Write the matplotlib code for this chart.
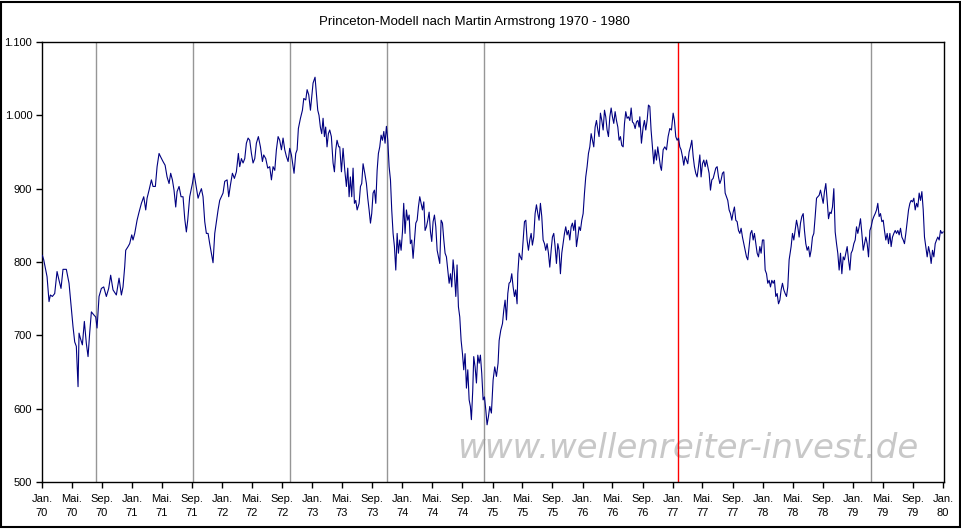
import datetime as dt
import numpy as np
import matplotlib
matplotlib.use("Agg")
import matplotlib.pyplot as plt
from matplotlib.patches import Rectangle

plt.rcParams['font.family'] = ['Liberation Sans', 'DejaVu Sans']

TITLE = "Princeton-Modell nach Martin Armstrong 1970 - 1980"
WATERMARK = "www.wellenreiter-invest.de"

# ---- data: Dow Jones index, dates as decimal years -------------------------
t_1970 = [1970.004, 1970.019, 1970.041, 1970.056, 1970.078, 1970.093, 1970.115, 1970.141,
          1970.167, 1970.189, 1970.211, 1970.233, 1970.270, 1970.300, 1970.326, 1970.344,
          1970.363, 1970.381, 1970.400, 1970.411, 1970.426, 1970.448, 1970.470, 1970.492,
          1970.511, 1970.529, 1970.548, 1970.574, 1970.596, 1970.611, 1970.633, 1970.659,
          1970.685, 1970.714, 1970.740, 1970.762, 1970.788, 1970.825, 1970.855, 1970.881,
          1970.899, 1970.918, 1970.929, 1970.955, 1970.973, 1970.996]
v_1970 = [809, 803, 789, 780, 746, 755, 753, 757,
          787, 775, 764, 790, 790, 771, 737, 712,
          691, 685, 630, 703, 696, 687, 719, 689,
          671, 703, 732, 728, 725, 710, 753, 764,
          766, 753, 764, 782, 762, 755, 778, 755,
          766, 794, 816, 821, 825, 837]

t_1971 = [1971.010, 1971.029, 1971.055, 1971.077, 1971.103, 1971.129, 1971.151, 1971.166,
          1971.188, 1971.214, 1971.232, 1971.258, 1971.277, 1971.299, 1971.314, 1971.343,
          1971.366, 1971.388, 1971.410, 1971.428, 1971.447, 1971.465, 1971.484, 1971.499,
          1971.521, 1971.543, 1971.565, 1971.584, 1971.602, 1971.617,
          1971.639, 1971.669, 1971.687, 1971.706, 1971.732, 1971.750, 1971.769, 1971.787,
          1971.806, 1971.824, 1971.843, 1971.861, 1971.880, 1971.898, 1971.917, 1971.935,
          1971.954, 1971.972, 1971.991]
v_1971 = [830, 839, 857, 868, 880, 889, 871, 887,
          898, 912, 903, 903, 930, 948, 944, 937,
          932, 916, 907, 921, 912, 898, 875, 896,
          903, 889, 889, 859, 841, 857,
          889, 907, 921, 907, 887, 894, 900, 889,
          855, 839, 839, 825, 812, 799, 839, 855,
          871, 884, 889]

t_1972 = [1972.009, 1972.028, 1972.054, 1972.072, 1972.091, 1972.113, 1972.135, 1972.157,
          1972.179, 1972.194, 1972.213, 1972.231, 1972.250, 1972.268, 1972.287, 1972.305,
          1972.324, 1972.342, 1972.361, 1972.379, 1972.401, 1972.424, 1972.446, 1972.460,
          1972.483, 1972.505, 1972.527, 1972.546, 1972.564, 1972.583, 1972.601, 1972.620,
          1972.638, 1972.657, 1972.675, 1972.694, 1972.712, 1972.731, 1972.749, 1972.768,
          1972.786, 1972.797, 1972.816, 1972.831, 1972.845, 1972.868, 1972.890, 1972.905,
          1972.927, 1972.942, 1972.960, 1972.979, 1972.993]
v_1972 = [894, 910, 912, 889, 905, 921, 914, 923,
          948, 930, 941, 935, 941, 962, 969, 966,
          948, 935, 941, 962, 971, 957, 937, 946,
          941, 928, 930, 912, 930, 925, 953, 971,
          966, 953, 969, 953, 944, 937, 955, 946,
          930, 921, 948, 953, 982, 996, 1007, 1023,
          1021, 1035, 1028, 1007, 1025]

t_1973 = [1973.008, 1973.030, 1973.045, 1973.060, 1973.074, 1973.089, 1973.104, 1973.119,
          1973.134, 1973.148, 1973.163, 1973.178, 1973.193, 1973.211, 1973.230, 1973.245,
          1973.260, 1973.274, 1973.293,
          1973.304, 1973.323, 1973.341, 1973.360, 1973.378, 1973.393, 1973.408, 1973.422,
          1973.437, 1973.452, 1973.467, 1973.482, 1973.497, 1973.519, 1973.534, 1973.548,
          1973.563, 1973.582, 1973.600, 1973.615, 1973.630, 1973.645, 1973.659, 1973.674,
          1973.689, 1973.704, 1973.719, 1973.733, 1973.748, 1973.763, 1973.778, 1973.793,
          1973.807, 1973.822, 1973.837, 1973.852, 1973.867, 1973.881, 1973.896, 1973.911,
          1973.926, 1973.941, 1973.955, 1973.970, 1973.985]
v_1973 = [1044, 1052, 1030, 1007, 1000, 984, 975, 996,
          971, 984, 957, 975, 980, 971, 935, 923,
          953, 966, 957,
          957, 923, 955, 925, 903, 928, 889, 916,
          889, 928, 880, 884, 871, 880, 903, 907,
          934, 921, 907, 887, 871, 853, 866, 894,
          898, 880, 925, 948, 957, 973, 966, 978,
          962, 985, 966, 930, 912, 871, 839, 821,
          789, 839, 812, 830, 816]

t_1974 = [1974.000, 1974.014, 1974.029, 1974.044, 1974.059, 1974.074, 1974.088, 1974.103,
          1974.118, 1974.133, 1974.148, 1974.163, 1974.177, 1974.192, 1974.207, 1974.222,
          1974.237, 1974.251, 1974.266, 1974.281, 1974.296, 1974.311, 1974.325, 1974.340,
          1974.355, 1974.370, 1974.385, 1974.399, 1974.414, 1974.429, 1974.444, 1974.459,
          1974.473, 1974.488, 1974.503, 1974.518, 1974.533, 1974.547, 1974.562, 1974.577,
          1974.592, 1974.606, 1974.621, 1974.636, 1974.651, 1974.666, 1974.680, 1974.695,
          1974.710, 1974.725, 1974.740, 1974.754, 1974.765, 1974.780, 1974.791, 1974.806,
          1974.821, 1974.836, 1974.851, 1974.865, 1974.880, 1974.895, 1974.910, 1974.925,
          1974.939, 1974.954, 1974.969, 1974.987]
v_1974 = [841, 880, 839, 871, 857, 864, 825, 830,
          805, 830, 853, 857, 875, 889, 880, 871,
          882, 843, 848, 857, 868, 841, 828, 855,
          864, 848, 816, 807, 798, 857, 853, 830,
          812, 807, 789, 771, 784, 766, 803, 784,
          753, 796, 739, 725, 693, 675, 653, 675,
          628, 653, 612, 603, 585, 625, 671, 657,
          635, 673, 662, 673, 648, 612, 616, 598,
          578, 589, 603, 594]

t_1975 = [1975.006, 1975.024, 1975.043, 1975.061, 1975.073, 1975.091, 1975.110, 1975.124,
          1975.139, 1975.154, 1975.169, 1975.183, 1975.198, 1975.213, 1975.228, 1975.243,
          1975.257, 1975.272, 1975.280, 1975.295, 1975.309, 1975.324, 1975.339, 1975.354,
          1975.369, 1975.383, 1975.398, 1975.413, 1975.428, 1975.442, 1975.457, 1975.472,
          1975.487, 1975.502, 1975.516, 1975.531, 1975.546, 1975.561, 1975.576, 1975.590,
          1975.605, 1975.620, 1975.635, 1975.650, 1975.664, 1975.679, 1975.694, 1975.709,
          1975.724, 1975.738, 1975.753, 1975.768, 1975.783, 1975.798, 1975.812, 1975.827,
          1975.842, 1975.857, 1975.872, 1975.886, 1975.901, 1975.916, 1975.931, 1975.946,
          1975.960, 1975.975, 1975.990]
v_1975 = [639, 657, 644, 662, 693, 707, 716, 734,
          748, 721, 757, 771, 773, 784, 766, 753,
          762, 743, 784, 812, 807, 803, 830, 855,
          857, 830, 816, 830, 839, 823, 834, 866,
          878, 866, 857, 880, 862, 830, 825, 816,
          825, 812, 793, 816, 834, 839, 821, 798,
          825, 816, 784, 812, 825, 839, 848, 837,
          843, 830, 848, 853, 843, 857, 821, 834,
          848, 843, 857]

t_1976 = [1976.005, 1976.020, 1976.034, 1976.049, 1976.064, 1976.079, 1976.094, 1976.108,
          1976.123, 1976.138, 1976.153, 1976.168, 1976.182, 1976.197, 1976.212, 1976.227,
          1976.242, 1976.256, 1976.271, 1976.286, 1976.301, 1976.316, 1976.330, 1976.345,
          1976.360, 1976.375, 1976.390, 1976.404, 1976.419, 1976.434, 1976.449, 1976.464,
          1976.478, 1976.493, 1976.508, 1976.523, 1976.538, 1976.552, 1976.567, 1976.582,
          1976.597, 1976.612, 1976.626,
          1976.634, 1976.652, 1976.671, 1976.685, 1976.700, 1976.715, 1976.730, 1976.745,
          1976.759, 1976.774, 1976.789, 1976.804, 1976.819, 1976.833, 1976.848, 1976.863,
          1976.874, 1976.893, 1976.911, 1976.930, 1976.948, 1976.967, 1976.985]
v_1976 = [866, 894, 916, 930, 948, 957, 975, 966,
          957, 984, 993, 980, 971, 1003, 993, 980,
          1007, 998, 980, 971, 998, 1010, 998, 989,
          1005, 993, 984, 966, 971, 959, 957, 989,
          1005, 996, 998, 993, 1010, 991, 989, 982,
          991, 993, 984,
          998, 962, 984, 993, 980, 993, 1014, 1012,
          980, 957, 934, 953, 939, 957, 944, 930,
          925, 953, 957, 953, 971, 982, 980]

t_1977 = [1977.004, 1977.018, 1977.033, 1977.048, 1977.063, 1977.078, 1977.092, 1977.107,
          1977.122, 1977.137, 1977.152, 1977.166, 1977.181, 1977.196, 1977.211, 1977.226,
          1977.240, 1977.255, 1977.270, 1977.285, 1977.300, 1977.314, 1977.329, 1977.344,
          1977.359, 1977.374, 1977.388, 1977.403, 1977.418, 1977.433, 1977.448, 1977.462,
          1977.477, 1977.492, 1977.507, 1977.522, 1977.536, 1977.551, 1977.566, 1977.581,
          1977.596, 1977.610, 1977.625, 1977.640, 1977.655, 1977.670, 1977.684, 1977.699,
          1977.714, 1977.729, 1977.744, 1977.758, 1977.773, 1977.788, 1977.803, 1977.818,
          1977.832, 1977.847, 1977.862, 1977.877, 1977.892, 1977.906, 1977.921, 1977.936,
          1977.951, 1977.966, 1977.980, 1977.995]
v_1977 = [1003, 993, 971, 966, 969, 957, 953, 944,
          932, 944, 939, 934, 950, 957, 966, 944,
          930, 921, 916, 930, 946, 916, 934, 939,
          930, 939, 930, 921, 898, 912, 914, 921,
          928, 930, 916, 907, 912, 921, 923, 894,
          889, 884, 871, 866, 857, 868, 875, 857,
          855, 843, 839, 846, 834, 825, 816, 807,
          803, 821, 839, 843, 830, 839, 825, 812,
          807, 821, 812, 830]

t_1978 = [1978.010, 1978.025, 1978.040, 1978.054, 1978.069, 1978.084, 1978.099, 1978.114,
          1978.128, 1978.143, 1978.158, 1978.173, 1978.188, 1978.202, 1978.217, 1978.232,
          1978.247, 1978.262, 1978.276, 1978.291,
          1978.313, 1978.328, 1978.343, 1978.358, 1978.373, 1978.387, 1978.402, 1978.417,
          1978.432, 1978.447, 1978.461, 1978.476, 1978.491, 1978.506, 1978.521, 1978.535,
          1978.550, 1978.565, 1978.580, 1978.595, 1978.609, 1978.624, 1978.639, 1978.654,
          1978.669, 1978.683, 1978.698, 1978.713, 1978.728, 1978.743, 1978.757, 1978.772,
          1978.787, 1978.802, 1978.817, 1978.831, 1978.846, 1978.861, 1978.876, 1978.891,
          1978.905, 1978.920, 1978.935, 1978.950, 1978.965, 1978.979, 1978.994]
v_1978 = [830, 789, 784, 771, 775, 766, 775, 771,
          775, 753, 757, 743, 748, 762, 771, 762,
          757, 753, 766, 803,
          821, 839, 830, 843, 857, 848, 834, 853,
          862, 866, 843, 825, 816, 821, 807, 816,
          834, 839, 862, 887, 889, 891, 898, 889,
          880, 896, 907, 884, 859, 868, 866, 875,
          900, 841, 825, 812, 789, 812, 784, 807,
          803, 812, 821, 803, 789, 812, 816]

t_1979 = [1979.009, 1979.024, 1979.039, 1979.053, 1979.068, 1979.083, 1979.098, 1979.113,
          1979.127, 1979.142, 1979.157, 1979.172, 1979.187, 1979.201, 1979.216, 1979.231,
          1979.246, 1979.261, 1979.275, 1979.290, 1979.305, 1979.320, 1979.335, 1979.349,
          1979.364, 1979.379, 1979.394, 1979.409, 1979.423, 1979.438, 1979.453, 1979.468,
          1979.483, 1979.497, 1979.512, 1979.527, 1979.542, 1979.557, 1979.571, 1979.586,
          1979.601, 1979.616, 1979.631, 1979.645, 1979.660, 1979.675, 1979.690, 1979.705,
          1979.719, 1979.734, 1979.749, 1979.764, 1979.779, 1979.793, 1979.808, 1979.823,
          1979.838, 1979.853, 1979.867, 1979.882, 1979.897, 1979.912, 1979.927, 1979.941,
          1979.956, 1979.971, 1979.986, 1980.000]
v_1979 = [825, 830, 848, 839, 848, 859, 839, 816,
          825, 834, 825, 807, 843, 848, 857, 862,
          866, 871, 880, 862, 866, 855, 857, 843,
          830, 839, 825, 839, 821, 834, 839, 843,
          839, 843, 837, 846, 834, 830, 825, 839,
          855, 871, 880, 884, 882, 887, 871, 880,
          875, 894, 884, 896, 871, 834, 821, 807,
          821, 812, 798, 816, 807, 825, 830, 834,
          830, 843, 839, 841]

# Princeton model turning points (decimal years)
cycle_dates = [1970.60, 1971.675, 1972.75, 1973.825, 1974.90, 1979.20]
red_date = 1977.06

y_ticks = [500, 600, 700, 800, 900, 1000, 1100]
month_labels = {1: "Jan.", 5: "Mai.", 9: "Sep."}
years = list(range(1970, 1980))

# ---------------------------------------------------------------------------
t_all, v_all = [], []
for tt, vv in [(t_1970, v_1970), (t_1971, v_1971), (t_1972, v_1972), (t_1973, v_1973),
               (t_1974, v_1974), (t_1975, v_1975), (t_1976, v_1976), (t_1977, v_1977),
               (t_1978, v_1978), (t_1979, v_1979)]:
    assert len(tt) == len(vv), (tt[0], len(tt), len(vv))
    t_all += tt
    v_all += vv

origin = dt.date(1970, 1, 1)


def yr_to_days(y):
    return (np.asarray(y, dtype=float) - 1970.0) * 365.25


fig = plt.figure(figsize=(9.62, 5.29), dpi=100)
fig.patch.set_facecolor("white")
ax = fig.add_axes([42 / 962, 1 - 482 / 529, (944 - 42) / 962, 440 / 529])

ax.plot(yr_to_days(t_all), v_all, color="#000080", lw=0.8, zorder=3)
for c in cycle_dates:
    ax.axvline(yr_to_days(c), color="#969696", lw=1.0, zorder=2)
ax.axvline(yr_to_days(red_date), color="#ff0000", lw=1.0, zorder=2)

ax.set_ylim(500, 1100)
ax.set_xlim(0, 3656)

ax.set_yticks(y_ticks)
ax.set_yticklabels([f"{v:,}".replace(",", ".") for v in y_ticks])

xt, xl = [], []
for y in years:
    for m, name in month_labels.items():
        xt.append((dt.date(y, m, 1) - origin).days)
        xl.append(f"{name}\n{str(y)[2:]}")
xt.append((dt.date(1980, 1, 1) - origin).days)
xl.append("Jan.\n80")
ax.set_xticks(xt)
ax.set_xticklabels(xl, linespacing=1.45)

ax.tick_params(axis="both", direction="out", length=4, width=1, color="black",
               labelsize=8, labelcolor="black")
ax.tick_params(axis="y", pad=3)
ax.tick_params(axis="x", pad=5)
for s in ax.spines.values():
    s.set_color("black")
    s.set_linewidth(1.0)

fig.text(474 / 962, 1 - 22 / 529, TITLE, ha="center", va="center", fontsize=9.5)

ax.text(688 / 962, 1 - 449 / 529, WATERMARK, transform=fig.transFigure,
        ha="center", va="center", fontsize=24.5, color="#c8c8c8", style="italic",
        family=["DejaVu Sans"], zorder=1, clip_on=False)

fig.patches.append(Rectangle((0.0015, 0.003), 0.996, 0.994, transform=fig.transFigure,
                             fill=False, edgecolor="black", lw=1.5))

fig.savefig("out.png", dpi=100, facecolor="white")
